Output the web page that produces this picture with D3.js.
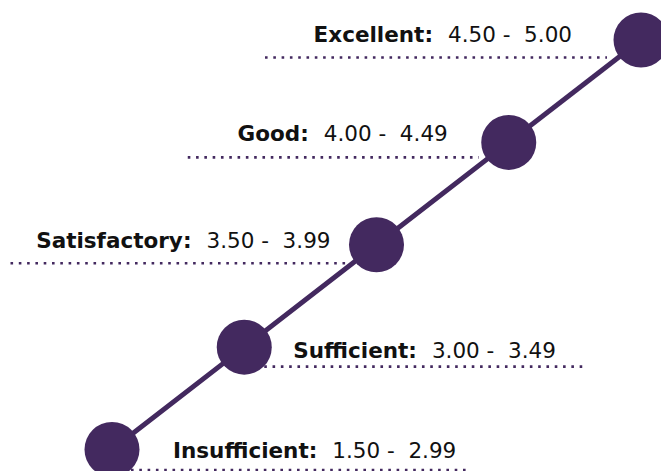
<!DOCTYPE html>
<html>
<head>
<meta charset="utf-8">
<script src="https://cdn.jsdelivr.net/npm/d3@7"></script>
<style>
  html, body { margin: 0; padding: 0; background: #fff; }
  svg { display: block; }
</style>
</head>
<body>
<div class="chart"></div>
<script>
// rating bands, lowest to highest
const categories = ["Insufficient", "Sufficient", "Satisfactory", "Good", "Excellent"];
const rangeLow = ["1.50", "3.00", "3.50", "4.00", "4.50"];
const rangeHigh = ["2.99", "3.49", "3.99", "4.49", "5.00"];

// callout placement relative to each point (side, text offset, guide line offsets)
const calloutLayout = [
  { side: "right", tx: 61, ty: 8.5, lx0: 19, lx1: 358, ly: 20.5 },
  { side: "right", tx: 49, ty: 11, lx0: 20, lx1: 339, ly: 19.5 },
  { side: "left", tx: -46, ty: 3.5, lx0: -366, lx1: -29, ly: 18.5 },
  { side: "left", tx: -61, ty: -1, lx0: -321, lx1: -30, ly: 15 },
  { side: "left", tx: -69, ty: 2, lx0: -376, lx1: -34, ly: 17.5 }
];

const width = 661;
const height = 471;
const purple = "#43295f";
const fontFamily = "'DejaVu Sans', sans-serif";

const svg = d3.select(".chart").append("svg")
  .attr("width", width)
  .attr("height", height);

const x = d3.scalePoint()
  .domain(categories)
  .range([112, 641]);

const y = d3.scalePoint()
  .domain(categories)
  .range([449.5, 40]);

const points = categories.map((c, i) => ({
  name: c,
  low: rangeLow[i],
  high: rangeHigh[i],
  layout: calloutLayout[i]
}));

// dotted guide lines
svg.append("g")
  .selectAll("line")
  .data(points)
  .join("line")
  .attr("x1", d => x(d.name) + d.layout.lx0)
  .attr("x2", d => x(d.name) + d.layout.lx1)
  .attr("y1", d => y(d.name) + d.layout.ly)
  .attr("y2", d => y(d.name) + d.layout.ly)
  .attr("stroke", purple)
  .attr("stroke-width", 2.6)
  .attr("stroke-dasharray", "2.6 5.7");

// connecting line
const line = d3.line()
  .x(d => x(d.name))
  .y(d => y(d.name));

svg.append("path")
  .datum(points)
  .attr("fill", "none")
  .attr("stroke", purple)
  .attr("stroke-width", 5)
  .attr("d", line);

// markers
svg.append("g")
  .selectAll("circle")
  .data(points)
  .join("circle")
  .attr("cx", d => x(d.name))
  .attr("cy", d => y(d.name))
  .attr("r", 27.5)
  .attr("fill", purple);

// labels
const labels = svg.append("g")
  .selectAll("text")
  .data(points)
  .join("text")
  .attr("x", d => x(d.name) + d.layout.tx)
  .attr("y", d => y(d.name) + d.layout.ty)
  .attr("text-anchor", d => d.layout.side === "left" ? "end" : "start")
  .attr("font-family", fontFamily)
  .attr("font-size", 21.5)
  .attr("fill", "#111");

labels.append("tspan")
  .attr("font-weight", "bold")
  .text(d => d.name + ":");

labels.append("tspan")
  .attr("dx", 15)
  .attr("font-weight", "normal")
  .text(d => d.low + " -\u00a0 " + d.high);
</script>
</body>
</html>
